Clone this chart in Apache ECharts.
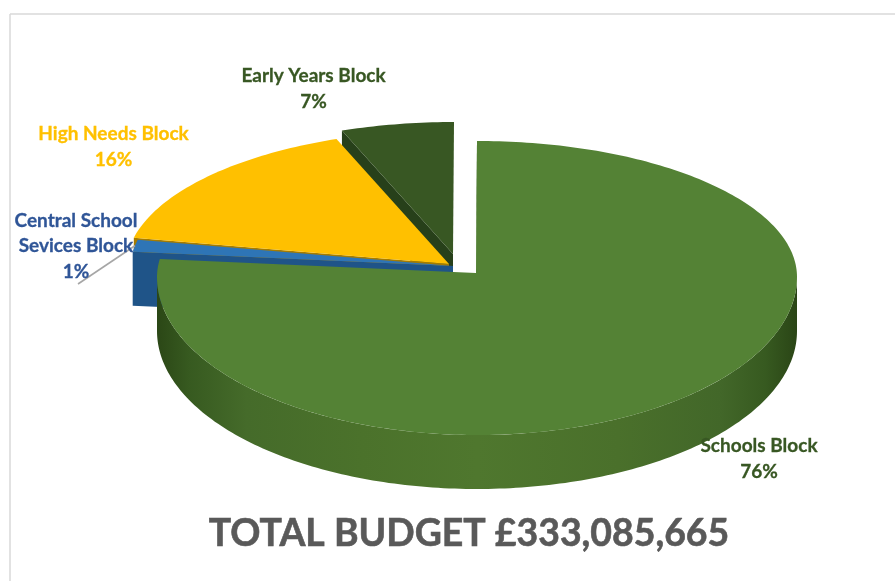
<!DOCTYPE html>
<html><head><meta charset="utf-8">
<style>html,body{margin:0;padding:0;background:#fff}#c{width:895px;height:581px}</style>
<script src="https://cdn.jsdelivr.net/npm/echarts@6/dist/echarts.min.js"></script>
</head><body><div id="c"></div>
<script>
// ---- data
var categories = ['Schools Block', 'Central School\nSevices Block', 'High Needs Block', 'Early Years Block'];
var values = [76, 1, 16, 7];
var totalTitle = 'TOTAL BUDGET £333,085,665';

// ---- styles
var topColors  = ['#548235', '#2E75B6', '#FFC000', '#385723'];
var sideColors = ['#3f6327', '#1F5488', '#A67C00', '#27401A'];
var textColors = ['#385723', '#2F5597', '#FFC000', '#385723'];
var explodeX = [0, -23, -27, -23];
var explodeY = [0, -7, -9, -19];
var spread   = [1, 1.013, 1.013, 1];
var labelX = [759, 76, 113.5, 313.5];
var labelY = [459, 246, 147, 89];

// ---- view geometry (tilted-disc projection)
var cx = 477, cy = 277, rx = 320, ryBack = 136, ryFront = 158, depth = 54;
var apexX = 476, apexY = 273;
// perspective calibration: true angle -> projected angle
var viewIn  = [0, 273.6, 277.2, 334.8, 360];
var viewOut = [0, 277.6, 282.7, 339.5, 360];
function project(t) {
  for (var i = 1; i < viewIn.length; i++) {
    if (t <= viewIn[i]) {
      return viewOut[i-1] + (t - viewIn[i-1]) / (viewIn[i] - viewIn[i-1]) * (viewOut[i] - viewOut[i-1]);
    }
  }
  return t;
}
function rim(phi, i) {
  var r = phi * Math.PI / 180, s = Math.sin(r), c = Math.cos(r);
  var x = cx + rx * s, y = cy - (c > 0 ? ryBack : ryFront) * c;
  return [apexX + spread[i] * (x - apexX) + explodeX[i], apexY + spread[i] * (y - apexY) + explodeY[i]];
}
var total = values.reduce(function (a, b) { return a + b; }, 0);
var starts = [], acc = 0;
values.forEach(function (v) { starts.push(acc); acc += v; });

var wallFill = new echarts.graphic.LinearGradient(157, 0, 797, 0, [
  {offset: 0, color: '#2B4716'}, {offset: 0.05, color: '#375A20'}, {offset: 0.14, color: '#456B2A'},
  {offset: 0.32, color: '#4B722B'}, {offset: 0.5, color: '#4F772E'}, {offset: 0.72, color: '#4A702B'},
  {offset: 0.88, color: '#426729'}, {offset: 0.95, color: '#375A20'}, {offset: 1, color: '#2A4516'}
], true);

var painter = [40, 30, 20, 10];

function renderSlice(params, api) {
  var i = params.dataIndex, v = api.value(0);
  var a0 = project(starts[i] / total * 360), a1 = project((starts[i] + v) / total * 360);
  var apex = [apexX + explodeX[i], apexY + explodeY[i]];
  var z = painter[i], kids = [], k, pts;

  // radial wall along the slice's starting edge
  var p0 = rim(a0, i);
  kids.push({type: 'polygon', z2: z, shape: {points: [apex, p0, [p0[0], p0[1] + depth], [apex[0], apex[1] + depth]]},
    style: {fill: sideColors[i]}});

  // outer front wall
  var f0 = Math.max(a0, 90), f1 = Math.min(a1, 270);
  if (f1 > f0) {
    var up = [], down = [];
    for (k = f0; k <= f1; k += 1) { var q = rim(k, i); up.push(q); down.unshift([q[0], q[1] + depth]); }
    kids.push({type: 'polygon', z2: z + 1, shape: {points: up.concat(down)},
      style: {fill: i === 0 ? wallFill : sideColors[i]}});
  }

  // top face
  pts = [apex];
  var steps = Math.max(2, Math.ceil(a1 - a0));
  for (k = 0; k <= steps; k++) pts.push(rim(a0 + (a1 - a0) * k / steps, i));
  kids.push({type: 'polygon', z2: z + 2, shape: {points: pts}, style: {fill: topColors[i]}});

  // leader line for the smallest slice
  if (v === Math.min.apply(null, values)) {
    var m = rim((a0 + a1) / 2, i);
    kids.push({type: 'line', z2: 60, shape: {x1: m[0], y1: m[1], x2: 78, y2: 284},
      style: {stroke: '#A6A6A6', lineWidth: 1.6}});
  }

  // label
  kids.push({type: 'text', z2: 70, style: {
    x: labelX[i], y: labelY[i], text: categories[i] + '\n' + v + '%',
    fill: textColors[i], font: 'bold 19px Lato, Carlito, sans-serif',
    stroke: textColors[i], lineWidth: 0.3,
    align: 'center', verticalAlign: 'middle', lineHeight: 25.5
  }});
  return {type: 'group', children: kids};
}

var chart = echarts.init(document.getElementById('c'), null, {renderer: 'canvas'});
chart.setOption({
  animation: false,
  backgroundColor: '#fff',
  title: {
    text: totalTitle, left: 464, top: 510, textAlign: 'center',
    textStyle: {color: '#595959', fontSize: 37.4, fontWeight: 'bold', fontFamily: 'Lato, Carlito, sans-serif',
      textBorderColor: '#595959', textBorderWidth: 0.6}
  },
  graphic: [
    {type: 'line', shape: {x1: 10, y1: 14, x2: 895, y2: 14}, style: {stroke: '#D9D9D9', lineWidth: 1.5}},
    {type: 'line', shape: {x1: 10, y1: 14, x2: 10, y2: 581}, style: {stroke: '#D9D9D9', lineWidth: 1.5}}
  ],
  series: [{
    type: 'custom',
    coordinateSystem: 'none',
    renderItem: renderSlice,
    encode: {value: 0},
    data: values.map(function (v, i) { return {name: categories[i], value: [v]}; })
  }]
});
</script></body></html>
